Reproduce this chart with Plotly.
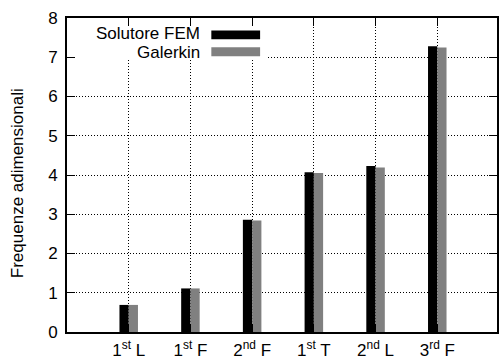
import plotly.graph_objects as go

categories = ["1<sup>st</sup> L", "1<sup>st</sup> F", "2<sup>nd</sup> F",
              "1<sup>st</sup> T", "2<sup>nd</sup> L", "3<sup>rd</sup> F"]
positions = [1, 2, 3, 4, 5, 6]
fem_values = [0.69, 1.11, 2.86, 4.07, 4.23, 7.28]
galerkin_values = [0.69, 1.11, 2.84, 4.05, 4.19, 7.25]
series_names = ["Solutore FEM", "Galerkin"]
series_colors = ["#000000", "#808080"]
y_ticks = [0, 1, 2, 3, 4, 5, 6, 7, 8]
y_title = "Frequenze adimensionali"

FONT = "Liberation Sans, Arial, sans-serif"
W, H = 499, 360
L, R, T, B = 67, 0, 18, 26
pw, ph = W - L - R, H - T - B

def px(x):
    return (x - L) / pw

def py(y):
    return (H - B - y) / ph

fig = go.Figure()
for name, vals, col in zip(series_names, [fem_values, galerkin_values], series_colors):
    fig.add_trace(go.Bar(x=positions, y=vals, name=name,
                         marker=dict(color=col, line=dict(width=0)),
                         showlegend=False))

shapes = [
    dict(type="rect", xref="paper", yref="paper", x0=px(76), x1=px(268),
         y0=py(60), y1=py(27), fillcolor="white", line=dict(width=0), layer="above"),
    dict(type="rect", xref="paper", yref="paper", x0=px(212), x1=px(261),
         y0=py(39.5), y1=py(30.5), fillcolor=series_colors[0], line=dict(width=0), layer="above"),
    dict(type="rect", xref="paper", yref="paper", x0=px(212), x1=px(261),
         y0=py(56.5), y1=py(47.5), fillcolor=series_colors[1], line=dict(width=0), layer="above"),
]
annotations = [
    dict(text=series_names[0], xref="paper", yref="paper", x=px(203), y=py(34),
         xanchor="right", yanchor="middle", showarrow=False,
         font=dict(family=FONT, size=17, color="black")),
    dict(text=series_names[1], xref="paper", yref="paper", x=px(203), y=py(53),
         xanchor="right", yanchor="middle", showarrow=False,
         font=dict(family=FONT, size=17, color="black")),
    dict(text=y_title, xref="paper", yref="paper", x=px(18), y=py(184),
         xanchor="center", yanchor="middle", textangle=-90, showarrow=False,
         font=dict(family=FONT, size=17, color="black")),
]

axis_common = dict(showline=True, linecolor="black", linewidth=2, mirror="ticks",
                   ticks="inside", ticklen=8, tickcolor="black", tickwidth=1,
                   showgrid=True, gridcolor="black", gridwidth=1, griddash="1px,2px",
                   zeroline=False)

fig.update_layout(
    width=W, height=H, margin=dict(l=L, r=R, t=T, b=B, pad=0),
    paper_bgcolor="white", plot_bgcolor="white",
    barmode="group", bargap=0.7, bargroupgap=0,
    shapes=shapes, annotations=annotations,
    font=dict(family=FONT, color="black"),
    xaxis=dict(range=[0, pw / 62.0], tickmode="array", tickvals=positions,
               ticktext=categories, ticklabelstandoff=2,
               tickfont=dict(family=FONT, size=17, color="black"), **axis_common),
    yaxis=dict(range=[0, 8], tickmode="array", tickvals=y_ticks,
               ticktext=[str(v) for v in y_ticks], ticklabelstandoff=4,
               tickfont=dict(family=FONT, size=17, color="black"),
               **axis_common),
)

fig.write_html("out.html")
